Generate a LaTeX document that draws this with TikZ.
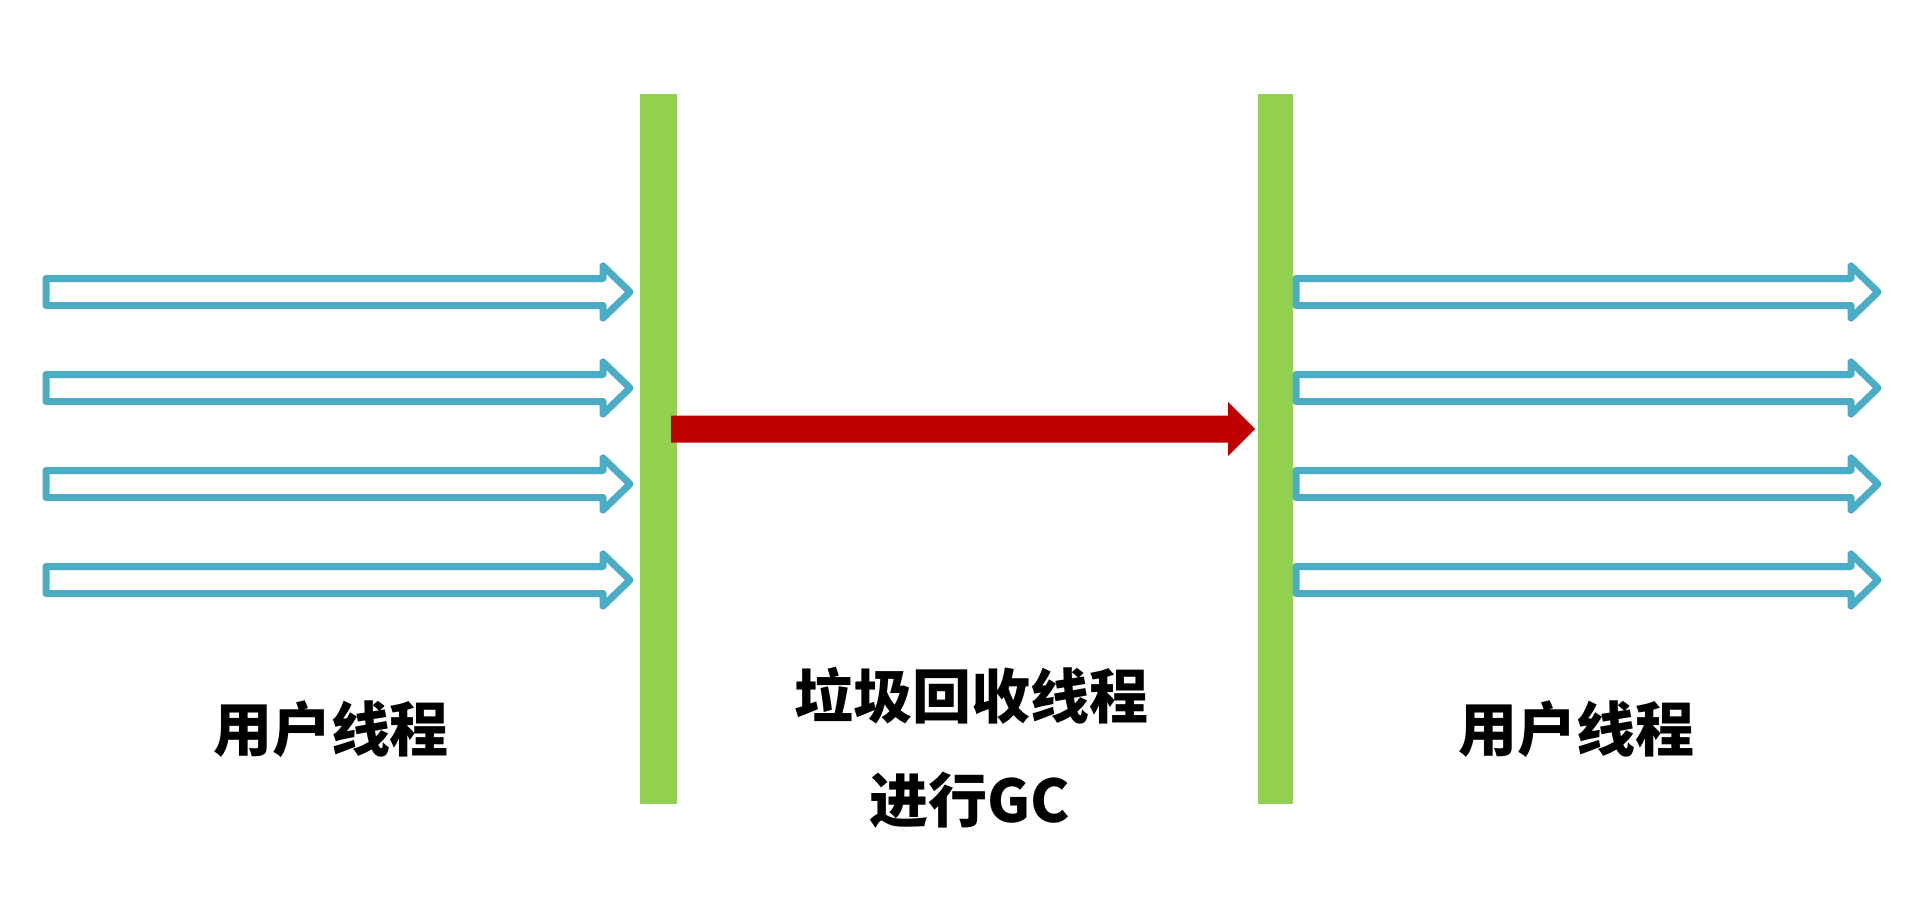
\documentclass[tikz,border=0pt]{standalone}
\usepackage{fontspec}
\newfontfamily\cjk{Noto Sans CJK SC}
\definecolor{barGreen}{HTML}{92D050}
\definecolor{arrBlue}{HTML}{4BACC6}
\definecolor{arrRed}{HTML}{C00000}
\tikzset{
  gcbar/.style={rectangle, fill=barGreen, draw=none, inner sep=0pt, minimum width=18pt, minimum height=355pt},
  bluearrow/.style={draw=arrBlue, fill=white, line width=3.5pt, line join=round},
  redarrow/.style={fill=arrRed, draw=none},
  lbl/.style={font=\cjk\bfseries\fontsize{29.5}{34}\selectfont, inner sep=0pt, anchor=center}
}
\newcommand\blockarrow[5]{%
  \path[#1] (#2,#4-13.5) -- (#3-27,#4-13.5) -- (#3-27,#4-#5) -- (#3,#4)
    -- (#3-27,#4+#5) -- (#3-27,#4+13.5) -- (#2,#4+13.5) -- cycle;}
\begin{document}
\begin{tikzpicture}[x=0.5pt,y=-0.5pt]
\useasboundingbox (0,0) rectangle (1919,901);
\fill[white] (0,0) rectangle (1919,901);
% barriers
\node[gcbar, minimum width=18.5pt] (barL) at (658.5,449) {};
\node[gcbar, minimum width=17.5pt] (barR) at (1275.5,449) {};
% user threads before
\foreach \yy in {292,388,484,580} {
  \blockarrow{bluearrow}{46}{630}{\yy}{26}
}
% user threads after
\foreach \yy in {292,388,484,580} {
  \blockarrow{bluearrow}{1296}{1878}{\yy}{26}
}
% GC thread
\blockarrow{redarrow}{671}{1255}{429}{27}
% labels
\node[lbl] (u1) at (331,729) {用户线程};
\node[lbl] (gc1) at (971,696) {垃圾回收线程};
\node[lbl] (gc2) at (970,800) {进行GC};
\node[lbl] (u2) at (1576,729) {用户线程};
\end{tikzpicture}
\end{document}
